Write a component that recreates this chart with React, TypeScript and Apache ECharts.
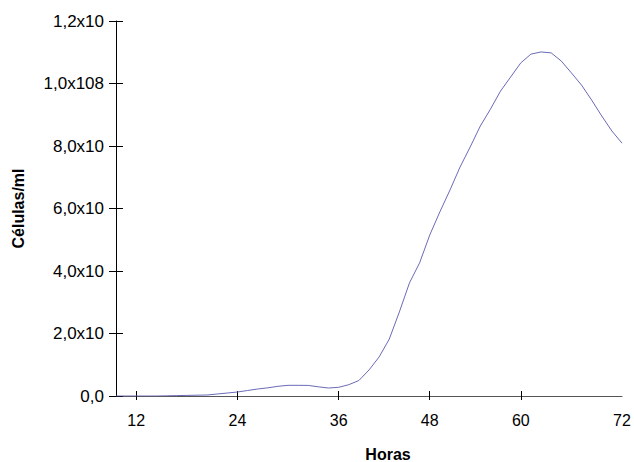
import React, { useEffect, useRef } from "react";
import * as echarts from "echarts";

const hours = [9.6, 10.8, 12, 13.2, 14.4, 15.6, 16.8, 18, 19.2, 20.4, 21.6, 22.8, 24, 25.2, 26.4, 27.6, 28.8, 30, 31.2, 32.4, 33.6, 34.8, 36, 37.3, 38.7, 40, 41.3, 42.7, 44, 45.3, 46.7, 48, 49.3, 50.7, 52, 53.3, 54.7, 56, 57.3, 58.7, 60, 61.2, 62.4, 63.6, 64.8, 66, 67.2, 68.4, 69.6, 70.8, 72];
// cells per ml, in millions
const cellsMillions = [0, 0, 0, 0, 0, 0.06, 0.13, 0.19, 0.26, 0.32, 0.64, 0.96, 1.28, 1.76, 2.24, 2.62, 3.1, 3.42, 3.42, 3.39, 2.94, 2.56, 2.78, 3.62, 4.96, 8.32, 12.5, 18.2, 26.9, 36.2, 42.6, 51.5, 58.9, 65.9, 73.3, 79.7, 86.4, 91.8, 97.6, 102.1, 106.6, 109.4, 110.1, 109.8, 107.2, 103.4, 99.5, 94.7, 89.6, 84.8, 80.9];
const labeledHours = [12, 24, 36, 48, 60, 72];
const tickHours = [12, 24, 36, 48, 60];
const yTickLabels = ["0,0", "2,0x10", "4,0x10", "6,0x10", "8,0x10", "1,0x108", "1,2x10"];

const FONT = "'Liberation Sans', Arial, Helvetica, sans-serif";

export default function App() {
  const ref = useRef<HTMLDivElement>(null);
  useEffect(() => {
    if (!ref.current) return;
    const chart = echarts.init(ref.current, null, { renderer: "svg" });
    const cats = hours.map((h) => String(h));
    chart.setOption({
      animation: false,
      backgroundColor: "#ffffff",
      grid: { left: 116, right: 12, top: 21, bottom: 66, outerBoundsMode: "none", containLabel: false },
      xAxis: [
        {
          type: "category",
          data: cats,
          boundaryGap: false,
          position: "bottom",
          name: "Horas",
          nameLocation: "middle",
          nameGap: 50,
          nameTextStyle: { fontFamily: FONT, fontSize: 16, fontWeight: "bold", color: "#000", padding: [0, 0, 0, 38] },
          axisLine: { show: true, lineStyle: { color: "#555", width: 1 } },
          axisTick: {
            show: true,
            inside: false,
            length: 4,
            lineStyle: { color: "#000" },
            interval: (i: number) => tickHours.includes(hours[i]),
          },
          axisLabel: {
            show: true,
            margin: 16,
            fontFamily: FONT,
            fontSize: 16,
            color: "#000",
            interval: (i: number) => labeledHours.includes(hours[i]),
          },
          splitLine: { show: false },
        },
        {
          type: "category",
          data: cats,
          boundaryGap: false,
          position: "bottom",
          axisLine: { show: false },
          axisTick: {
            show: true,
            inside: true,
            length: 5,
            lineStyle: { color: "#000" },
            interval: (i: number) => tickHours.includes(hours[i]),
          },
          axisLabel: { show: false },
          splitLine: { show: false },
        },
      ],
      yAxis: [
        {
          type: "value",
          min: 0,
          max: 1.2e8,
          interval: 2e7,
          name: "Células/ml",
          nameLocation: "middle",
          nameGap: 90,
          nameTextStyle: { fontFamily: FONT, fontSize: 16, fontWeight: "bold", color: "#000" },
          axisLine: { show: true, lineStyle: { color: "#000", width: 1 } },
          axisTick: { show: true, inside: false, length: 7, lineStyle: { color: "#000" } },
          axisLabel: {
            margin: 12,
            fontFamily: FONT,
            fontSize: 17,
            color: "#000",
            formatter: (v: number) => yTickLabels[Math.round(v / 2e7)] ?? "",
          },
          splitLine: { show: false },
        },
        {
          type: "value",
          min: 0,
          max: 1.2e8,
          interval: 2e7,
          position: "left",
          axisLine: { show: false },
          axisTick: { show: true, inside: true, length: 7, lineStyle: { color: "#000" } },
          axisLabel: { show: false },
          splitLine: { show: false },
        },
      ],
      series: [
        {
          type: "line",
          xAxisIndex: 0,
          yAxisIndex: 0,
          data: cellsMillions.map((v) => v * 1e6),
          symbol: "none",
          smooth: false,
          lineStyle: { color: "#6a6ab8", width: 1 },
        },
      ],
    });
    return () => chart.dispose();
  }, []);
  return <div ref={ref} style={{ position: "fixed", left: 0, top: 0, width: 634, height: 462 }} />;
}
